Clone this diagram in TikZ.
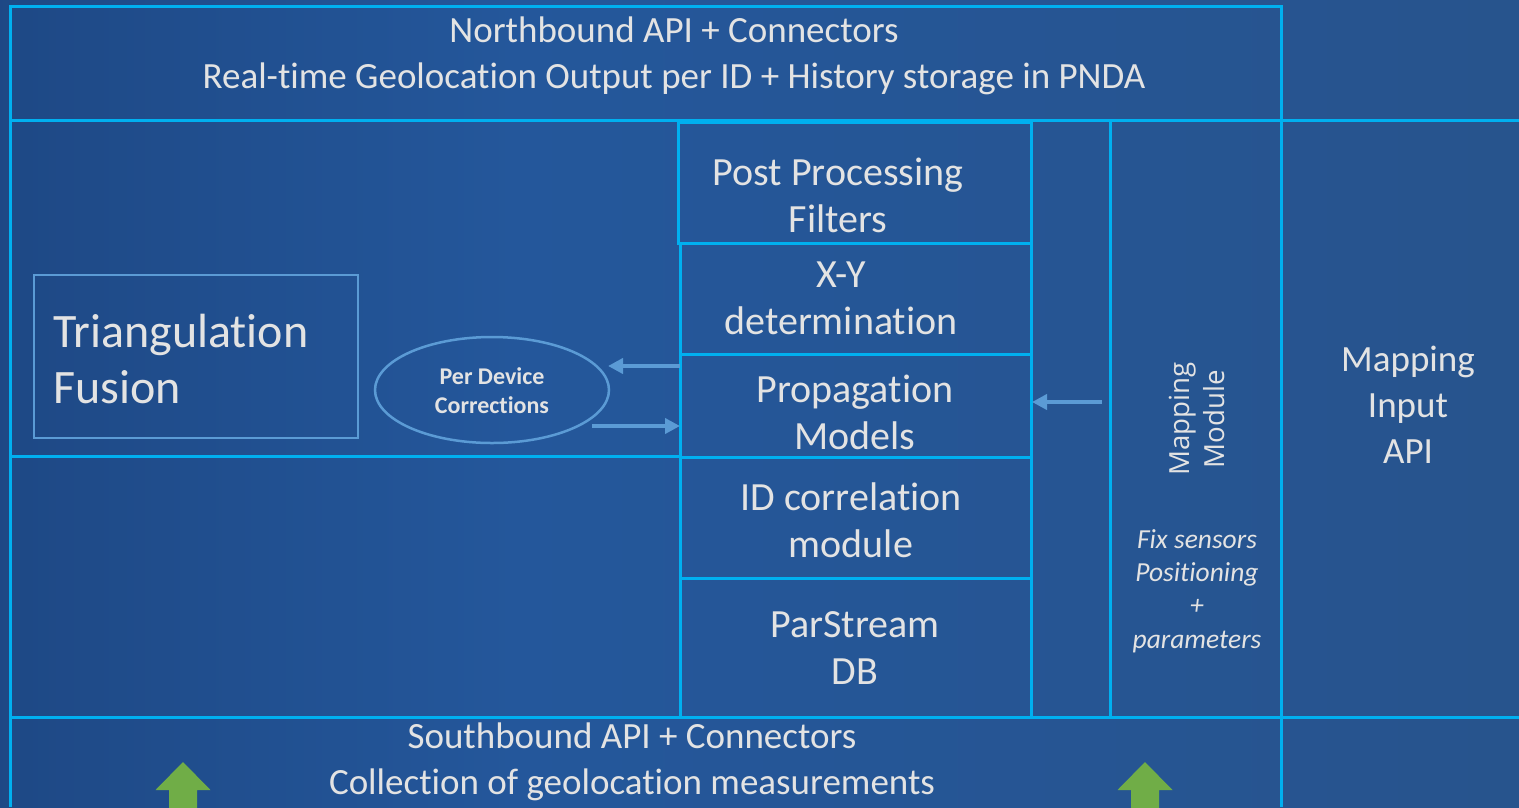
\documentclass[tikz,border=0pt]{standalone}
\usepackage{fontspec}
\setmainfont{Carlito}[Ligatures={NoCommon}]
\newfontfamily\segoefont{Open Sans}
\usetikzlibrary{arrows.meta,shapes.geometric}
\definecolor{cyanline}{HTML}{00B0F0}
\definecolor{lblue}{HTML}{5B9BD5}
\definecolor{txt}{HTML}{E3E3E3}
\definecolor{grn}{HTML}{70AD47}
\definecolor{bgA}{HTML}{153365}
\definecolor{bgB}{HTML}{24579B}
\definecolor{bgC}{HTML}{2A5182}
\pgfdeclarehorizontalshading{bgshade}{100bp}{color(0bp)=(bgA); color(42bp)=(bgB); color(100bp)=(bgC)}
\tikzset{
  frame/.style={draw=cyanline, line width=3pt},
  cbox/.style={draw=cyanline, line width=3pt, inner sep=0pt, outer sep=0pt},
  region/.style={inner sep=0pt, outer sep=0pt},
  maintxt/.style={text=txt, font=\fontsize{37}{46}\selectfont, align=center, inner sep=0pt},
  coltxt/.style={text=txt, font=\fontsize{40}{47}\selectfont, align=center, inner sep=0pt},
  bigtxt/.style={text=txt, font=\fontsize{48}{56}\selectfont, align=left, inner sep=0pt},
  smalltxt/.style={text=txt, font=\bfseries\fontsize{24}{29}\selectfont, align=center, inner sep=0pt},
  itxt/.style={text=txt, font=\itshape\fontsize{27.5}{33.3}\selectfont, align=center, inner sep=0pt},
  rottxt/.style={text=txt, font=\segoefont\fontsize{27.7}{35}\selectfont, align=center, inner sep=0pt, rotate=90},
  conn/.style={draw=lblue, line width=4pt, -{Triangle[length=15pt,width=15pt]}},
  greenarrow/.style={fill=grn}
}
\begin{document}
\begin{tikzpicture}[x=1pt,y=-1pt]
\useasboundingbox (0,0) rectangle (1519,807);
\shade[shading=bgshade] (0,0) rectangle (1519,807);

% regions
\node[region, minimum width=1271pt, minimum height=114pt] (north) at (645.5,63) {};
\node[region, minimum width=1271pt, minimum height=90pt] (south) at (645.5,762) {};
\node[region, minimum width=238pt, minimum height=597pt] (mapinput) at (1400,418.5) {};
\node[region, minimum width=171pt, minimum height=597pt] (mapmod) at (1195.5,418.5) {};

% frame lines
\draw[frame] (10,6) rectangle (1281,120);
\draw[frame] (10,120) -- (1519,120);
\draw[frame] (10,717) -- (1519,717);
\draw[frame] (10,6) -- (10,807);
\draw[frame] (1281,6) -- (1281,807);
\draw[frame] (10,456) -- (680,456);
\draw[frame] (1031,120) -- (1031,717);
\draw[frame] (1110,120) -- (1110,717);

% column boxes
\node[cbox, minimum width=353pt, minimum height=121pt] (ppbox) at (854.5,182.5) {};
\node[cbox, minimum width=351pt, minimum height=111pt] (xybox) at (855.5,298.5) {};
\node[cbox, minimum width=351pt, minimum height=103pt] (propbox) at (855.5,405.5) {};
\node[cbox, minimum width=351pt, minimum height=121pt] (idbox) at (855.5,517.5) {};
\node[cbox, minimum width=351pt, minimum height=139pt] (psbox) at (855.5,647.5) {};

% texts
\node[maintxt] (northtxt) at (674,56) {Northbound API + Connectors\\Real-time Geolocation Output per ID + History storage in PNDA};
\node[coltxt] (pptxt) at (838,195.5) {Post Processing\\Filters};
\node[coltxt] (xytxt) at (841,298.5) {X-Y\\determination};
\node[coltxt] (proptxt) at (855,412.5) {Propagation\\Models};
\node[coltxt] (idtxt) at (851,520.5) {ID correlation\\module};
\node[coltxt] (pstxt) at (855,648.5) {ParStream\\DB};
\node[maintxt] (mitxt) at (1408,405) {Mapping\\Input\\API};
\node[maintxt] (southtxt) at (632,762) {Southbound API + Connectors\\Collection of geolocation measurements};
\node[rottxt] (mmtxt) at (1197,419) {Mapping\\Module};
\node[itxt] (fixtxt) at (1197,591) {Fix sensors\\Positioning\\+\\parameters};

% triangulation
\node[draw=lblue, line width=2.5pt, minimum width=324pt, minimum height=163pt, inner sep=0pt] (tribox) at (196,356.5) {};
\node[bigtxt, anchor=west] (tritxt) at (53,359) {Triangulation\\Fusion};

% ellipse
\node[ellipse, draw=lblue, line width=2.5pt, minimum width=234pt, minimum height=106pt, inner sep=0pt] (pdc) at (492,390) {};
\node[smalltxt] (pdctxt) at (492,391) {Per Device\\Corrections};

% connectors
\coordinate (tipL) at (608,366);
\coordinate (startR) at (592,426);
\coordinate (startM) at (1102,402);
\draw[conn] ([yshift=39.5pt]propbox.west) -- (tipL);
\draw[conn] (startR) -- ([yshift=-20.5pt]propbox.west);
\draw[conn] (startM) -- ([xshift=1pt,yshift=3.5pt]propbox.east);

% green arrows
\fill[greenarrow] (183,762) -- (210.5,790) -- (197,790) -- (197,812) -- (169,812) -- (169,790) -- (155.5,790) -- cycle;
\fill[greenarrow] (1145,762) -- (1172.5,790) -- (1159,790) -- (1159,812) -- (1131,812) -- (1131,790) -- (1117.5,790) -- cycle;
\end{tikzpicture}
\end{document}
